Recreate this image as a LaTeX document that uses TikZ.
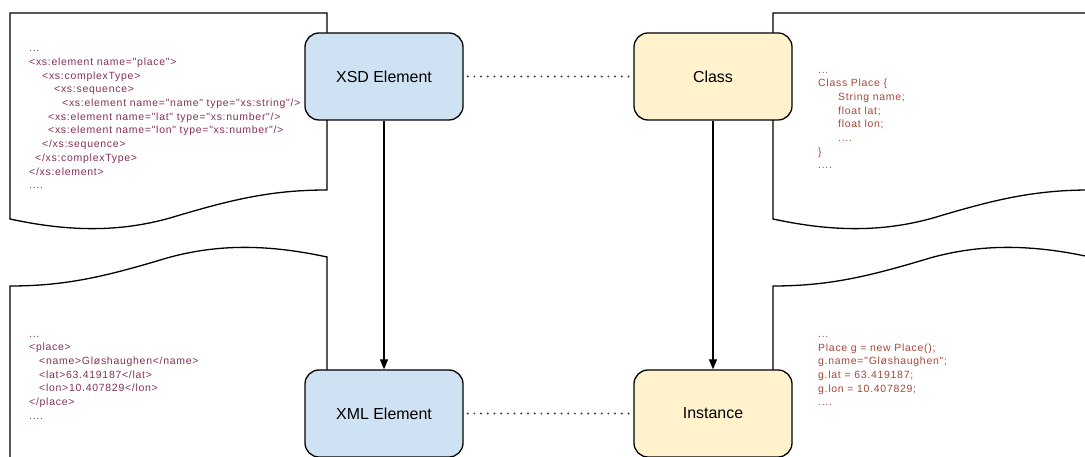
\documentclass[tikz,border=0pt]{standalone}
\usepackage{fontspec}
\setmainfont{Liberation Sans}
\newfontfamily\codefont[LetterSpace=7]{Liberation Sans}
\usetikzlibrary{arrows.meta}
\definecolor{xsdblue}{HTML}{CFE2F3}
\definecolor{classyellow}{HTML}{FFF2CC}
\definecolor{schemared}{HTML}{853058}
\definecolor{javared}{HTML}{A5473A}

\begin{document}
\begin{tikzpicture}[x=1bp,y=-1bp,
  concept/.style={draw=black, line width=1.3bp, rounded corners=14bp,
    minimum width=158bp, minimum height=87bp, inner sep=0pt,
    font=\fontsize{16}{18}\selectfont},
  docshape/.style={draw=black, fill=white, line width=1.3bp},
  code/.style={anchor=north west, inner sep=0pt, align=left,
    font=\codefont\fontsize{10.5}{13.75}\selectfont},
  derives/.style={draw=black, line width=1.3bp, -{Triangle[length=10bp,width=8bp]}},
  maps/.style={draw=black!75, line width=2.2bp, dash pattern=on 0pt off 6.7bp, line cap=round}
]
\clip (0,0) rectangle (1085,457);

% document shapes: wave at the bottom for the upper pair, at the top for the lower pair
\foreach \dx in {0,763}{
  \begin{scope}[xshift=\dx bp]
    \path[docshape] (10,13) -- (327,13) -- (327,190)
      .. controls (270,190) and (230,200) .. (170,218)
      .. controls (120,232) and (70,232) .. (10,219) -- cycle;
    \path[docshape] (10,470) -- (10,286)
      .. controls (67,286) and (107,276) .. (167,258)
      .. controls (217,244) and (267,244) .. (327,257) -- (327,470);
  \end{scope}
}

% code listings
\node[code, text=schemared] (xsdcode) at (29,42.0) {\strut...\\
<xs:element name="place">\\
\hspace*{13bp}<xs:complexType>\\
\hspace*{25bp}<xs:sequence>\\
\hspace*{33bp}<xs:element name="name" type="xs:string"/>\\
\hspace*{19bp}<xs:element name="lat" type="xs:number"/>\\
\hspace*{19bp}<xs:element name="lon" type="xs:number"/>\\
\hspace*{13bp}</xs:sequence>\\
\hspace*{6bp}</xs:complexType>\\
</xs:element>\\
....};

\node[code, text=schemared] (xmlcode) at (29,327.3) {\strut...\\
<place>\\
\hspace*{10bp}<name>Gløshaughen</name>\\
\hspace*{10bp}<lat>63.419187</lat>\\
\hspace*{10bp}<lon>10.407829</lon>\\
</place>\\
....};

\node[code, text=javared] (classcode) at (818,63.3) {\strut...\\
Class Place \{\\
\hspace*{20bp}String name;\\
\hspace*{20bp}float lat;\\
\hspace*{20bp}float lon;\\
\hspace*{20bp}....\\
\}\\
....};

\node[code, text=javared] (instcode) at (818,327.6) {\strut...\\
Place g = new Place();\\
g.name="Gløshaughen";\\
g.lat = 63.419187;\\
g.lon = 10.407829;\\
....};

% concepts
\node[concept, fill=xsdblue] (xsd) at (384,76.5) {XSD Element};
\node[concept, fill=classyellow] (class) at (713,76.5) {Class};
\node[concept, fill=xsdblue] (xml) at (384,413.5) {XML Element};
\node[concept, fill=classyellow] (inst) at (713,413.5) {Instance};

% relations
\draw[derives] (xsd) -- (xml);
\draw[derives] (class) -- (inst);
\draw[maps] ([xshift=4bp]xsd.east) -- (class.west);
\draw[maps] ([xshift=4bp]xml.east) -- (inst.west);
\end{tikzpicture}
\end{document}
